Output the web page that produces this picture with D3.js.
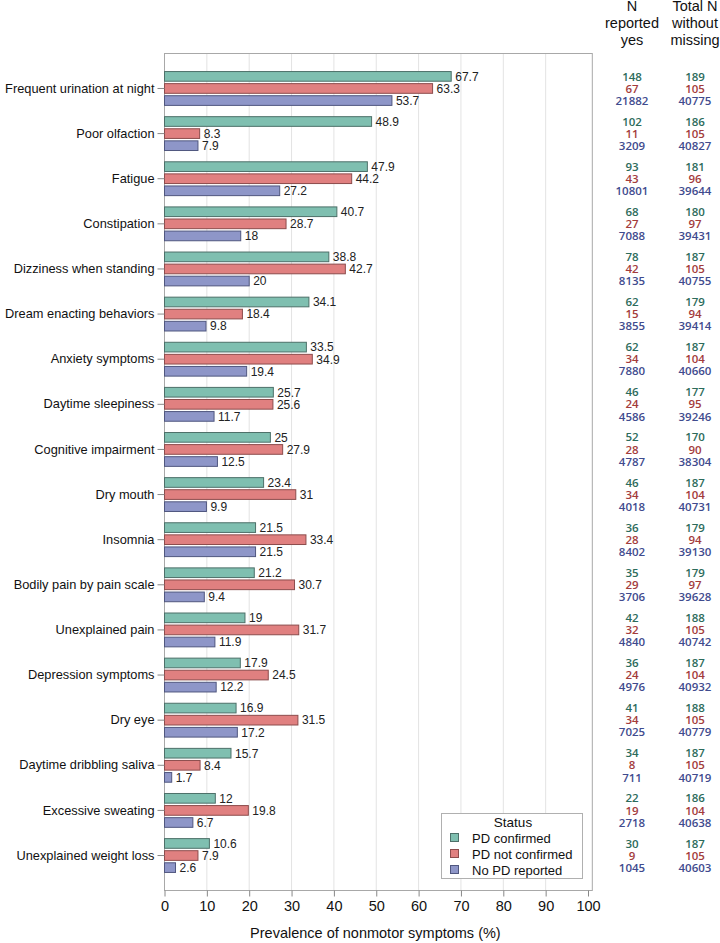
<!DOCTYPE html>
<html>
<head>
<meta charset="utf-8">
<script src="https://cdn.jsdelivr.net/npm/d3@7"></script>
<style>
  body { margin: 0; background: #fff; }
  svg { display: block; font-family: "Liberation Sans", Arial, sans-serif; }
</style>
</head>
<body>
<svg width="720" height="943"></svg>
<script>
// symptoms, top to bottom
var symptoms = ['Frequent urination at night', 'Poor olfaction', 'Fatigue', 'Constipation',
  'Dizziness when standing', 'Dream enacting behaviors', 'Anxiety symptoms', 'Daytime sleepiness',
  'Cognitive impairment', 'Dry mouth', 'Insomnia', 'Bodily pain by pain scale', 'Unexplained pain',
  'Depression symptoms', 'Dry eye', 'Daytime dribbling saliva', 'Excessive sweating',
  'Unexplained weight loss'];

var statuses = ['PD confirmed', 'PD not confirmed', 'No PD reported'];

// prevalence (%)
var pdConfirmed    = [67.7, 48.9, 47.9, 40.7, 38.8, 34.1, 33.5, 25.7, 25, 23.4, 21.5, 21.2, 19, 17.9, 16.9, 15.7, 12, 10.6];
var pdNotConfirmed = [63.3, 8.3, 44.2, 28.7, 42.7, 18.4, 34.9, 25.6, 27.9, 31, 33.4, 30.7, 31.7, 24.5, 31.5, 8.4, 19.8, 7.9];
var noPD           = [53.7, 7.9, 27.2, 18, 20, 9.8, 19.4, 11.7, 12.5, 9.9, 21.5, 9.4, 11.9, 12.2, 17.2, 1.7, 6.7, 2.6];

// N reported yes
var yesConfirmed    = [148, 102, 93, 68, 78, 62, 62, 46, 52, 46, 36, 35, 42, 36, 41, 34, 22, 30];
var yesNotConfirmed = [67, 11, 43, 27, 42, 15, 34, 24, 28, 34, 28, 29, 32, 24, 34, 8, 19, 9];
var yesNoPD         = [21882, 3209, 10801, 7088, 8135, 3855, 7880, 4586, 4787, 4018, 8402, 3706, 4840, 4976, 7025, 711, 2718, 1045];

// Total N without missing
var totConfirmed    = [189, 186, 181, 180, 187, 179, 187, 177, 170, 187, 179, 179, 188, 187, 188, 187, 186, 187];
var totNotConfirmed = [105, 105, 96, 97, 105, 94, 104, 95, 90, 104, 94, 97, 105, 104, 105, 105, 104, 105];
var totNoPD         = [40775, 40827, 39644, 39431, 40755, 39414, 40660, 39246, 38304, 40731, 39130, 39628, 40742, 40932, 40779, 40719, 40638, 40603];

var xTicks = [0, 10, 20, 30, 40, 50, 60, 70, 80, 90, 100];

var fills   = ['#7fbfb0', '#e08080', '#8e96c8'];
var strokes = ['#4d7069', '#8c4c4c', '#50577f'];
var textCol = ['#2c6b5b', '#a33b3b', '#3f4b8e'];

var prev = [pdConfirmed, pdNotConfirmed, noPD];
var yes = [yesConfirmed, yesNotConfirmed, yesNoPD];
var tot = [totConfirmed, totNotConfirmed, totNoPD];

var svg = d3.select('svg');
var pL = 164.5, pR = 592.3, pT = 53.5, pB = 890.5;

var x = d3.scaleLinear().domain([0, 100]).range([pL, 588]);
var y = d3.scaleBand().domain(symptoms).range([pT, pB]).paddingInner(0.25).paddingOuter(0.4);
var ySub = d3.scaleBand().domain(statuses).range([0, y.bandwidth()]).paddingInner(0.2);

// grid
svg.append('g').selectAll('line')
  .data(xTicks.slice(1, -1))
  .enter().append('line')
  .attr('x1', function(d) { return x(d); })
  .attr('x2', function(d) { return x(d); })
  .attr('y1', pT).attr('y2', pB)
  .style('stroke', '#e3e3e3').style('stroke-width', 1);

// frame
svg.append('rect')
  .attr('x', pL).attr('y', pT)
  .attr('width', pR - pL).attr('height', pB - pT)
  .style('fill', 'none').style('stroke', '#a8a8a8').style('stroke-width', 1);

// bars
var rows = [];
symptoms.forEach(function(s, i) {
  statuses.forEach(function(st, j) {
    rows.push({sym: s, status: st, j: j, v: prev[j][i]});
  });
});

var g = svg.append('g');
g.selectAll('rect')
  .data(rows)
  .enter().append('rect')
  .attr('x', x(0))
  .attr('y', function(d) { return y(d.sym) + ySub(d.status); })
  .attr('width', function(d) { return x(d.v) - x(0); })
  .attr('height', ySub.bandwidth())
  .style('fill', function(d) { return fills[d.j]; })
  .style('stroke', function(d) { return strokes[d.j]; })
  .style('stroke-width', 1);

g.selectAll('text')
  .data(rows)
  .enter().append('text')
  .attr('x', function(d) { return x(d.v) + 4; })
  .attr('y', function(d) { return y(d.sym) + ySub(d.status) + ySub.bandwidth() / 2; })
  .attr('dy', '0.36em')
  .style('font-size', '12px')
  .style('fill', '#222')
  .text(function(d) { return d.v; });

// y axis
var yAxis = svg.append('g')
  .attr('transform', 'translate(' + pL + ',0)')
  .call(d3.axisLeft(y).tickSize(7).tickPadding(3));
yAxis.select('.domain').remove();
yAxis.selectAll('line').style('stroke', '#888');
yAxis.selectAll('text').style('font-size', '12.8px').style('fill', '#111')
  .style('font-family', '"Liberation Sans", Arial, sans-serif');

// x axis
var xAxis = svg.append('g')
  .attr('transform', 'translate(0,' + pB + ')')
  .call(d3.axisBottom(x).tickValues(xTicks).tickSize(6).tickPadding(4).tickFormat(d3.format('d')));
xAxis.select('.domain').remove();
xAxis.selectAll('line').style('stroke', '#888');
xAxis.selectAll('text').style('font-size', '14.5px').style('fill', '#111')
  .style('font-family', '"Liberation Sans", Arial, sans-serif');

svg.append('text')
  .attr('x', (pL + pR) / 2 - 3).attr('y', 938)
  .attr('text-anchor', 'middle')
  .style('font-size', '14.5px').style('fill', '#111')
  .text('Prevalence of nonmotor symptoms (%)');

// legend
var lg = svg.append('g');
lg.append('rect')
  .attr('x', 441.5).attr('y', 813.5).attr('width', 141).attr('height', 65)
  .style('fill', '#fff').style('stroke', '#b0b0b0');
lg.append('text')
  .attr('x', 513).attr('y', 827).attr('text-anchor', 'middle')
  .style('font-size', '13.5px').style('fill', '#111').text('Status');
statuses.forEach(function(st, j) {
  var yy = 838 + j * 16;
  lg.append('rect')
    .attr('x', 450.5).attr('y', yy - 4.5).attr('width', 8).attr('height', 8)
    .style('fill', fills[j]).style('stroke', strokes[j]);
  lg.append('text')
    .attr('x', 472).attr('y', yy).attr('dy', '0.36em')
    .style('font-size', '13px').style('fill', '#111').text(st);
});

// right columns
var headers = [['N', 'reported', 'yes'], ['Total N', 'without', 'missing']];
var colX = [632, 695];
headers.forEach(function(h, c) {
  svg.append('text')
    .attr('text-anchor', 'middle')
    .style('font-size', '14.5px').style('fill', '#111')
    .selectAll('tspan').data(h).enter().append('tspan')
    .attr('x', colX[c]).attr('y', function(d, k) { return 11 + k * 17; })
    .text(function(d) { return d; });
});

var nums = [];
symptoms.forEach(function(s, i) {
  statuses.forEach(function(st, j) {
    nums.push({sym: s, status: st, j: j, a: yes[j][i], b: tot[j][i]});
  });
});
[['a', 0], ['b', 1]].forEach(function(p) {
  svg.append('g').selectAll('text')
    .data(nums)
    .enter().append('text')
    .attr('x', colX[p[1]])
    .attr('y', function(d) { return y(d.sym) + ySub(d.status) + ySub.bandwidth() / 2; })
    .attr('dy', '0.36em')
    .attr('text-anchor', 'middle')
    .style('font-family', '"Open Sans", "Noto Sans", sans-serif')
    .style('font-weight', 600)
    .style('font-size', '11.5px')
    .style('fill', function(d) { return textCol[d.j]; })
    .text(function(d) { return d[p[0]]; });
});
</script>
</body>
</html>
